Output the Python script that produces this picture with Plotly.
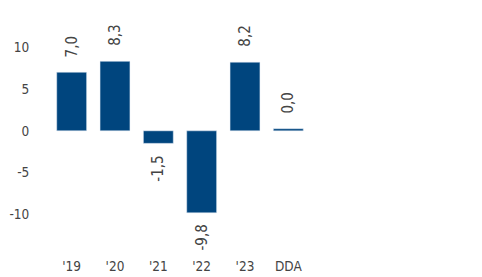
import plotly.graph_objects as go

categories = ["'19", "'20", "'21", "'22", "'23", "DDA"]
values = [7.0, 8.3, -1.5, -9.8, 8.2, 0.25]
labels = ["7,0", "8,3", "-1,5", "-9,8", "8,2", "0,0"]
tick_vals = [-10, -5, 0, 5, 10]
tick_text = ["-10", "-5", "0", "5", "10"]

FONT = "Liberation Sans Narrow, DejaVu Sans Condensed, sans-serif"
BAR = "#00457e"
TXT = "#444444"

fig = go.Figure(go.Bar(x=categories, y=values, marker_color=BAR, width=0.69, hoverinfo="skip"))

for c, v, t in zip(categories, values, labels):
    fig.add_annotation(x=c, y=v, text=t, showarrow=False, textangle=-90,
                       yanchor="bottom" if v >= 0 else "top",
                       yshift=13 if v >= 0 else -10,
                       font=dict(family=FONT, size=15, color=TXT))

fig.update_layout(
    width=474, height=269,
    margin=dict(l=42, r=172, t=14, b=29, autoexpand=False),
    paper_bgcolor="white", plot_bgcolor="white",
    showlegend=False,
    font=dict(family=FONT, size=14, color=TXT),
    xaxis=dict(showgrid=False, zeroline=False, showline=False, automargin=False,
               ticks="outside", ticklen=6, tickcolor="rgba(0,0,0,0)",
               tickfont=dict(family=FONT, size=13.5, color=TXT)),
    yaxis=dict(range=[-14, 13], tickvals=tick_vals, ticktext=tick_text,
               showgrid=False, zeroline=False, showline=False, automargin=False,
               ticks="outside", ticklen=17, tickcolor="rgba(0,0,0,0)",
               tickfont=dict(family=FONT, size=13.5, color=TXT)),
)

fig.write_html("out.html")
